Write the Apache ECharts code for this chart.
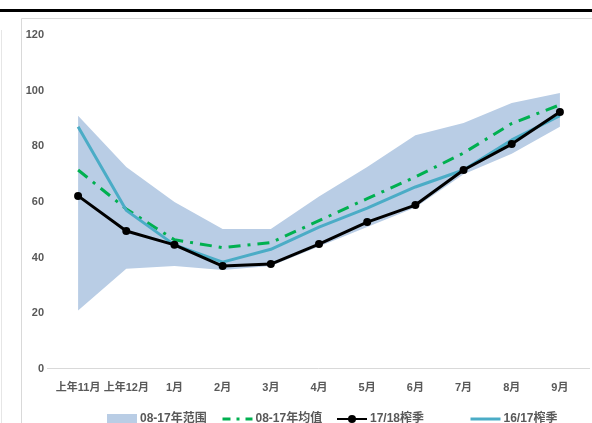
<!DOCTYPE html>
<html><head><meta charset="utf-8">
<script src="https://cdn.jsdelivr.net/npm/echarts@6/dist/echarts.min.js"></script>
<style>html,body{margin:0;padding:0;background:#fff}#c{width:592px;height:423px}</style>
</head><body><div id="c"></div>
<script>
const categories = ['上年11月','上年12月','1月','2月','3月','4月','5月','6月','7月','8月','9月'];
const rangeLow  = [21, 36, 37, 35.6, 37, 44, 51, 58, 70, 77.3, 87];
const rangeHigh = [91, 72.6, 60, 50.3, 50.3, 62, 72.6, 84, 88.4, 95.6, 99.2];
const mean0817  = [71.5, 57.5, 46.4, 43.6, 45.4, 53.3, 61.2, 69, 77.6, 88.2, 94.9];
const s1718     = [62.2, 49.6, 44.6, 37, 37.7, 44.9, 52.8, 58.9, 71.5, 80.8, 92.3];
const s1617     = [87, 57, 44.6, 38.4, 43, 51, 57.8, 65.4, 71.5, 82.3, 91];
const yTicks    = [0, 20, 40, 60, 80, 100, 120];
const legendNames = ['08-17年范围', '08-17年均值', '17/18榨季', '16/17榨季'];

const rangeDiff = rangeHigh.map((v, i) => +(v - rangeLow[i]).toFixed(2));
const FONT = '"Liberation Sans Narrow","Arial Narrow","Liberation Sans","Noto Sans CJK SC",sans-serif';
const TXT = {fontFamily: FONT, fontWeight: 'bold', fontSize: 11, color: '#595959'};
const CLEAR = {color: 'rgba(0,0,0,0)', borderWidth: 0};

function leg(i, left, item) {
  return {
    data: [Object.assign({name: legendNames[i]}, item)],
    top: 408, left: left,
    itemWidth: 30, itemHeight: 10, itemGap: 0,
    selectedMode: false,
    textStyle: Object.assign({}, TXT, {fontSize: 12, padding: [0, 0, 0, -2]})
  };
}

const chart = echarts.init(document.getElementById('c'), null, {renderer: 'canvas'});
chart.setOption({
  animation: false,
  backgroundColor: '#fff',
  graphic: [
    {type: 'rect', shape: {x: 0, y: 9, width: 592, height: 3}, style: {fill: '#000'}, silent: true},
    {type: 'rect', shape: {x: 21.5, y: 18.5, width: 600, height: 420}, style: {fill: 'none', stroke: '#d9d9d9', lineWidth: 1}, silent: true},
    {type: 'line', shape: {x1: 1.5, y1: 30, x2: 1.5, y2: 423}, style: {stroke: '#e6e6e6', lineWidth: 1}, silent: true},
    {type: 'line', shape: {x1: 47, y1: 368.5, x2: 590, y2: 368.5}, style: {stroke: '#d9d9d9', lineWidth: 1}, silent: true, z: 0}
  ],
  legend: [
    leg(0, 102, {icon: 'rect', itemStyle: {color: '#b9cde5'}}),
    leg(1, 216, {itemStyle: CLEAR, lineStyle: {color: '#00b050', width: 3, type: [8, 6, 3, 6]}}),
    leg(2, 331, {}),
    leg(3, 464, {itemStyle: CLEAR, lineStyle: {color: '#4bacc6', width: 3}})
  ],
  grid: {left: 54, right: 8, top: 35, bottom: 54},
  xAxis: {
    type: 'category',
    data: categories,
    boundaryGap: true,
    axisLine: {show: false},
    axisTick: {show: false},
    axisLabel: Object.assign({}, TXT, {interval: 0, margin: 13})
  },
  yAxis: {
    type: 'value',
    min: yTicks[0],
    max: yTicks[yTicks.length - 1],
    interval: 20,
    axisLine: {show: false},
    axisTick: {show: false},
    splitLine: {show: false},
    axisLabel: Object.assign({}, TXT, {margin: 10})
  },
  series: [
    {name: 'low', type: 'line', stack: 'band', data: rangeLow, symbol: 'none',
     lineStyle: {opacity: 0}, silent: true, z: 1},
    {name: legendNames[0], type: 'line', stack: 'band', data: rangeDiff, symbol: 'none',
     lineStyle: {opacity: 0, width: 0}, itemStyle: {color: '#b9cde5'},
     areaStyle: {color: '#b9cde5', opacity: 1}, z: 1},
    {name: legendNames[1], type: 'line', data: mean0817, symbol: 'none',
     itemStyle: {color: '#00b050'},
     lineStyle: {color: '#00b050', width: 3, type: [12, 7, 3, 7]}, z: 3},
    {name: legendNames[3], type: 'line', data: s1617, symbol: 'none',
     itemStyle: {color: '#4bacc6'},
     lineStyle: {color: '#4bacc6', width: 3}, z: 4},
    {name: legendNames[2], type: 'line', data: s1718, symbol: 'circle', symbolSize: 8,
     itemStyle: {color: '#000'},
     lineStyle: {color: '#000', width: 3}, z: 5}
  ]
});
</script>
</body></html>
